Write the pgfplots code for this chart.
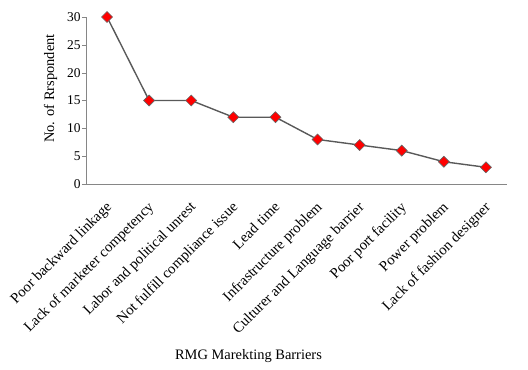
\documentclass[border=0pt]{standalone}
\usepackage{pgfplots}
\pgfplotsset{compat=1.18}
\usepackage{fontspec}
\setmainfont{Liberation Serif}
\definecolor{axgray}{HTML}{868686}
\definecolor{lgray}{HTML}{595959}
\begin{document}
\begin{tikzpicture}
\begin{axis}[
  name=ax,
  width=421bp, height=167bp, scale only axis,
  xmin=-0.5, xmax=9.5, ymin=0, ymax=30,
  ytick={0,5,10,15,20,25,30},
  xtick={0,...,9},
  xticklabels={Poor backward linkage, Lack of marketer competency, Labor and political unrest, Not fulfill compliance issue, Lead time, Infrastructure problem, Culturer and Language barrier, Poor port facility, Power problem, Lack of fashion designer},
  x tick label style={rotate=45, anchor=north east, inner sep=1pt, font=\fontsize{14.8}{17}\selectfont, xshift=-3bp},
  xticklabel shift=9bp,
  y tick label style={font=\fontsize{13.5}{16}\selectfont, xshift=2bp},
  /pgf/number format/assume math mode=true,
  axis x line*=bottom, axis y line*=left,
  axis line style={axgray, -},
  xtick style={draw=none},
  ytick style={axgray},
  tick align=outside,
  major tick length=4bp,
  xlabel={RMG Marekting Barriers},
  ylabel={No. of Rrspondent},
  label style={font=\fontsize{14.5}{17}\selectfont},
  xlabel style={yshift=-8bp, xshift=-48bp},
  ylabel style={yshift=3bp, xshift=12bp},
  clip=false,
]
\addplot[color=lgray, line width=1.4pt, mark=square*, mark size=3.9pt,
  mark options={rotate=45, fill=red, draw=black!60, line width=0.6pt}]
  coordinates {(0,30) (1,15) (2,15) (3,12) (4,12) (5,8) (6,7) (7,6) (8,4) (9,3)};
\end{axis}
\path[use as bounding box] (ax.south west) ++(-86bp,-186bp) rectangle ([shift={(21bp,17bp)}]ax.north east);
\end{tikzpicture}
\end{document}
